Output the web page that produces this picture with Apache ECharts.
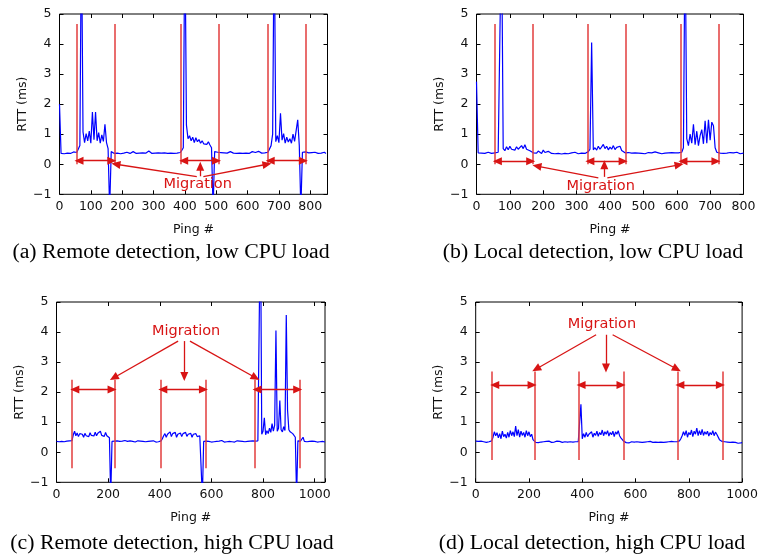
<!DOCTYPE html>
<html>
<head>
<meta charset="utf-8">
<script src="https://cdn.jsdelivr.net/npm/echarts@6/dist/echarts.min.js"></script>
<style>
  html, body { margin: 0; padding: 0; background: #fff; }
  #chart { width: 761px; height: 555px; }
</style>
</head>
<body>
<div id="chart"></div>
<script>
"use strict";

// one RTT sample every STEP pings
const STEP = 5;

// (a) remote detection, low CPU load, pings 0..850
const rttA = [
  2.0, 0.36, 0.38, 0.35, 0.39, 0.37, 0.40, 0.36, 0.38, 0.41, 0.37, 0.39, 0.40, 0.62, 8, 1.08, 0.72, 1.02, 0.78, 1.1,
  0.7, 1.74, 0.82, 1.74, 0.78, 1.05, 0.7, 0.98, 0.76, 1.33, 0.72, 0.52, -1.5, 0.42, 0.38, 0.36, 0.40, 0.37, 0.38, 0.35,
  0.39, 0.37, 0.36, 0.40, 0.38, 0.36, 0.37, 0.42, 0.38, 0.36, 0.39, 0.37, 0.35, 0.38, 0.41, 0.37, 0.39, 0.44, 0.38, 0.36,
  0.33, 0.37, 0.36, 0.38, 0.40, 0.37, 0.35, 0.38, 0.37, 0.36, 0.39, 0.37, 0.38, 0.36, 0.40, 0.37, 0.38, 0.39, 0.46, 0.55,
  8, 1.3, 0.85, 0.95, 0.78, 0.9, 0.72, 0.88, 0.75, 0.82, 0.7, 0.78, 0.68, 0.74, 0.66, 0.75, 0.64, 0.55, -1.5, 0.42,
  0.38, 0.40, 0.37, 0.39, 0.36, 0.38, 0.41, 0.37, 0.36, 0.42, 0.38, 0.37, 0.39, 0.36, 0.38, 0.37, 0.40, 0.36, 0.38, 0.37,
  0.39, 0.36, 0.38, 0.42, 0.37, 0.39, 0.36, 0.43, 0.38, 0.37, 0.40, 0.38, 0.39, 0.40, 0.42, 0.62, 1.0, 8, 0.75, 0.95,
  0.72, 1.7, 0.8, 1.02, 0.7, 0.9, 0.74, 0.85, 0.7, 1.0, 0.76, 1.12, 1.48, 0.62, -1.5, 0.4, 0.38, 0.41, 0.37, 0.38,
  0.36, 0.39, 0.37, 0.40, 0.38, 0.36, 0.39, 0.37, 0.38, 0.40, 0.36
];

// (b) local detection, low CPU load, pings 0..800
const rttB = [
  2.75, 0.38, 0.35, 0.37, 0.39, 0.36, 0.38, 0.40, 0.37, 0.36, 0.39, 0.38, 0.37, 0.40, 0.45, 8, 0.52, 0.45, 0.58, 0.48,
  0.6, 0.5, 0.56, 0.47, 0.58, 0.5, 0.55, 0.62, 0.52, 0.65, 0.5, 0.55, 0.45, 0.4, 0.38, 0.41, 0.37, 0.44, 0.38, 0.36,
  0.47, 0.39, 0.37, 0.43, 0.38, 0.36, 0.39, 0.35, 0.37, 0.36, 0.38, 0.34, 0.37, 0.36, 0.39, 0.35, 0.37, 0.38, 0.36, 0.40,
  0.37, 0.35, 0.38, 0.37, 0.39, 0.36, 0.38, 0.42, 0.5, 4.05, 0.48, 0.55, 0.47, 0.6, 0.5, 0.58, 0.66, 0.52, 0.6, 0.48,
  0.57, 0.5, 0.62, 0.49, 0.56, 0.5, 0.6, 0.46, 0.42, 0.38, 0.36, 0.39, 0.35, 0.37, 0.36, 0.38, 0.34, 0.37, 0.40, 0.36,
  0.38, 0.35, 0.37, 0.39, 0.36, 0.38, 0.37, 0.41, 0.36, 0.38, 0.37, 0.35, 0.39, 0.37, 0.36, 0.38, 0.37, 0.39, 0.36, 0.38,
  0.37, 0.38, 0.39, 0.40, 0.55, 8, 0.85, 0.62, 1.0, 0.7, 1.33, 0.65, 1.1, 0.62, 0.95, 1.15, 0.68, 1.45, 0.7, 1.48,
  0.8, 1.4, 1.28, 0.55, 0.4, 0.38, 0.37, 0.39, 0.36, 0.38, 0.37, 0.35, 0.39, 0.37, 0.38, 0.36, 0.40, 0.37, 0.35, 0.38,
  0.37
];

// (c) remote detection, high CPU load, pings 0..1040
const rttC = [
  0.36, 0.37, 0.35, 0.38, 0.36, 0.37, 0.35, 0.38, 0.37, 0.36, 0.38, 0.37, 0.39, 0.58, 0.7, 0.55, 0.64, 0.52, 0.62, 0.56,
  0.6, 0.5, 0.63, 0.55, 0.6, 0.52, 0.65, 0.56, 0.62, 0.54, 0.67, 0.55, 0.63, 0.58, 0.7, 0.56, 0.62, 0.53, 0.66, 0.55,
  0.6, 0.48, -1.5, 0.36, 0.33, 0.37, 0.35, 0.38, 0.34, 0.36, 0.33, 0.37, 0.35, 0.39, 0.34, 0.36, 0.35, 0.38, 0.33, 0.36,
  0.37, 0.34, 0.36, 0.38, 0.35, 0.37, 0.34, 0.36, 0.38, 0.35, 0.37, 0.36, 0.34, 0.37, 0.35, 0.38, 0.36, 0.34, 0.37, 0.35,
  0.36, 0.38, 0.45, 0.55, 0.62, 0.5, 0.6, 0.54, 0.68, 0.52, 0.62, 0.56, 0.66, 0.5, 0.6, 0.55, 0.64, 0.52, 0.62, 0.57,
  0.66, 0.53, 0.6, 0.55, 0.63, 0.5, 0.6, 0.56, 0.62, 0.52, 0.58, 0.55, 0.5, -1.5, 0.36, 0.34, 0.37, 0.35, 0.36, 0.38,
  0.34, 0.36, 0.35, 0.38, 0.36, 0.33, 0.37, 0.35, 0.39, 0.36, 0.34, 0.37, 0.35, 0.38, 0.36, 0.41, 0.35, 0.37, 0.34, 0.36,
  0.38, 0.35, 0.37, 0.34, 0.36, 0.38, 0.35, 0.37, 0.36, 0.34, 0.37, 0.35, 0.38, 0.36, 0.37, 0.39, 0.38, 0.42, 8, 0.6,
  0.7, 1.15, 0.58, 0.72, 0.62, 0.8, 0.66, 0.95, 0.7, 0.9, 4.05, 0.7, 0.8, 1.72, 0.75, 0.68, 0.85, 0.72, 4.57, 1.4,
  0.75, 0.68, 0.72, 0.62, 0.66, 0.5, -1.5, 0.38, 0.36, 0.37, 0.35, 0.5, 0.36, 0.38, 0.35, 0.37, 0.36, 0.34, 0.37, 0.35,
  0.36, 0.38, 0.34, 0.36, 0.35, 0.33, 0.36, 0.35, 0.34
];

// (d) local detection, high CPU load, pings 0..1000
const rttD = [
  0.37, 0.33, 0.36, 0.34, 0.37, 0.33, 0.35, 0.36, 0.33, 0.37, 0.35, 0.36, 0.38, 0.5, 0.68, 0.55, 0.65, 0.48, 0.62, 0.45,
  0.7, 0.52, 0.6, 0.47, 0.66, 0.5, 0.72, 0.55, 0.68, 0.52, 0.87, 0.55, 0.75, 0.5, 0.7, 0.56, 0.66, 0.5, 0.72, 0.55,
  0.68, 0.52, 0.6, 0.42, 0.36, 0.33, 0.35, 0.32, 0.36, 0.34, 0.37, 0.35, 0.33, 0.36, 0.34, 0.37, 0.35, 0.33, 0.36, 0.34,
  0.35, 0.37, 0.34, 0.36, 0.35, 0.33, 0.36, 0.35, 0.37, 0.34, 0.36, 0.35, 0.37, 0.34, 0.36, 0.35, 0.37, 0.35, 0.36, 1.6,
  0.45, 0.62, 0.5, 0.66, 0.52, 0.6, 0.55, 0.68, 0.5, 0.63, 0.56, 0.7, 0.53, 0.66, 0.58, 0.74, 0.55, 0.68, 0.6, 0.72,
  0.54, 0.66, 0.58, 0.7, 0.52, 0.68, 0.6, 0.72, 0.55, 0.48, 0.42, 0.37, 0.35, 0.32, 0.34, 0.31, 0.33, 0.35, 0.32, 0.34,
  0.33, 0.35, 0.32, 0.34, 0.36, 0.33, 0.35, 0.34, 0.32, 0.35, 0.33, 0.36, 0.34, 0.33, 0.35, 0.34, 0.36, 0.33, 0.35, 0.34,
  0.36, 0.33, 0.35, 0.34, 0.36, 0.35, 0.33, 0.36, 0.34, 0.35, 0.37, 0.35, 0.34, 0.38, 0.45, 0.55, 0.68, 0.56, 0.72, 0.5,
  0.66, 0.58, 0.74, 0.52, 0.7, 0.6, 0.8, 0.55, 0.72, 0.58, 0.76, 0.56, 0.68, 0.6, 0.7, 0.54, 0.66, 0.58, 0.72, 0.55,
  0.67, 0.6, 0.64, 0.42, 0.37, 0.36, 0.38, 0.35, 0.36, 0.34, 0.35, 0.33, 0.32, 0.34, 0.31, 0.33, 0.32, 0.30, 0.33, 0.31,
  0.32
];

// migration start / end markers (ping #), three migrations per run
const migA = [54, 175, 388, 509, 664, 786];
const migB = [55, 170, 332, 447, 611, 725];
const migC = [61, 225, 402, 579, 767, 944];
const migD = [62, 221, 386, 555, 757, 928];

// marker line extent [bottom, top] and double-arrow height (ms)
const markSpan = [[0, 4.67], [0, 4.67], [-0.53, 2.41], [-0.26, 2.69]];
const arrowY = [0.12, 0.1, 2.09, 2.24];

// "Migration" label [ping, rtt] and its three pointers [from, to]
const labelAt = [[441, -0.68], [372, -0.72], [502, 4.03], [474, 4.25]];
const pointers = [
  [[[438, -0.41], [180, 0.0]], [[449, -0.4], [449, -0.07]], [[459, -0.41], [662, 0.0]]],
  [[[365, -0.45], [181, -0.06]], [[383, -0.42], [383, -0.02]], [[392, -0.45], [607, -0.02]]],
  [[[471, 3.7], [222, 2.48]], [[495, 3.7], [495, 2.52]], [[517, 3.7], [771, 2.48]]],
  [[[452, 3.91], [227, 2.77]], [[489, 3.91], [489, 2.8]], [[514, 3.91], [755, 2.77]]]
];

const captions = [
  "(a) Remote detection, low CPU load",
  "(b) Local detection, low CPU load",
  "(c) Remote detection, high CPU load",
  "(d) Local detection, high CPU load"
];

const xMax = [855, 800, 1040, 1000];
const xStep = [100, 100, 200, 200];

const runs = [rttA, rttB, rttC, rttD];
const migs = [migA, migB, migC, migD];

const grids = [
  {left: 59.5, top: 14, width: 268, height: 180.3},
  {left: 476.5, top: 14, width: 267, height: 180.3},
  {left: 56.5, top: 302, width: 268.5, height: 180.3},
  {left: 475.7, top: 302, width: 267.6, height: 180.3}
];
const captionPos = [[171, 253], [593, 253], [172, 544], [592, 544]];

const SANS = "DejaVu Sans";
const RED_LINE = "#e23c3c";
const RED = "#d81414";
const BLUE = "#0000ff";

const xAxes = [], yAxes = [], series = [], graphics = [];

grids.forEach((g, i) => {
  const tick = {show: true, inside: true, length: 4, lineStyle: {color: "#000", width: 1}};
  const noLine = {show: false, onZero: false};
  const xLabel = {
    fontFamily: SANS, fontSize: 12.5, color: "#111", margin: 6,
    formatter: v => (v % xStep[i] === 0 ? String(v) : "")
  };
  xAxes.push({
    gridIndex: i, type: "value", min: 0, max: xMax[i], interval: xStep[i], position: "bottom",
    name: "Ping #", nameLocation: "middle", nameGap: 29,
    nameTextStyle: {fontFamily: SANS, fontSize: 12.5, color: "#111"},
    axisLine: noLine, axisTick: tick, axisLabel: xLabel, splitLine: {show: false}
  });
  xAxes.push({
    gridIndex: i, type: "value", min: 0, max: xMax[i], interval: xStep[i], position: "top",
    axisLine: noLine, axisTick: tick, axisLabel: {show: false}, splitLine: {show: false}
  });
  yAxes.push({
    gridIndex: i, type: "value", min: -1, max: 5, interval: 1, position: "left",
    name: "RTT (ms)", nameLocation: "middle", nameGap: 30,
    nameTextStyle: {fontFamily: SANS, fontSize: 12.5, color: "#111"},
    axisLine: noLine, axisTick: tick,
    axisLabel: {fontFamily: SANS, fontSize: 12.5, color: "#111", margin: 8,
      formatter: v => String(v).replace("-", "\u2212")},
    splitLine: {show: false}
  });
  yAxes.push({
    gridIndex: i, type: "value", min: -1, max: 5, interval: 1, position: "right",
    axisLine: noLine, axisTick: tick, axisLabel: {show: false}, splitLine: {show: false}
  });

  const xi = i * 2, yi = i * 2;
  const m = migs[i];

  // measured RTT
  series.push({
    type: "line", xAxisIndex: xi, yAxisIndex: yi, clip: true,
    data: runs[i].map((v, k) => [k * STEP, v]),
    showSymbol: false, symbol: "none",
    lineStyle: {color: BLUE, width: 1.2}, z: 3
  });

  // migration boundaries
  series.push({
    type: "line", xAxisIndex: xi, yAxisIndex: yi, data: [], z: 4,
    markLine: {
      silent: true, symbol: "none", animation: false,
      label: {show: false},
      lineStyle: {color: RED_LINE, width: 1.5, type: "solid"},
      data: m.map(x => [{coord: [x, markSpan[i][0]]}, {coord: [x, markSpan[i][1]]}])
    }
  });

  // double arrows spanning each migration
  const gap = xMax[i] / 105;
  const pairs = [[m[0], m[1]], [m[2], m[3]], [m[4], m[5]]];
  series.push({
    type: "line", xAxisIndex: xi, yAxisIndex: yi, data: [], z: 5,
    markLine: {
      silent: true, symbol: ["triangle", "triangle"], symbolSize: [8, 9], animation: false,
      label: {show: false},
      lineStyle: {color: RED, width: 1.3, type: "solid", opacity: 1},
      data: pairs.map(p => [{coord: [p[0] + gap, arrowY[i]]}, {coord: [p[1] - gap, arrowY[i]]}])
    }
  });

  // pointers from the label
  series.push({
    type: "line", xAxisIndex: xi, yAxisIndex: yi, data: [], z: 5,
    markLine: {
      silent: true, symbol: ["none", "triangle"], symbolSize: [8, 9], animation: false,
      label: {show: false},
      lineStyle: {color: RED, width: 1.3, type: "solid"},
      data: pointers[i].map(p => [{coord: p[0]}, {coord: p[1]}])
    },
    markPoint: {
      silent: true, symbol: "circle", symbolSize: 0, animation: false,
      label: {show: true, position: "inside", formatter: "Migration",
        fontFamily: SANS, fontSize: 14.5, color: RED},
      data: [{coord: labelAt[i]}]
    }
  });

  graphics.push({
    type: "text", x: captionPos[i][0], y: captionPos[i][1], scaleX: 1.09,
    style: {
      text: captions[i], fill: "#000",
      font: '20px "Liberation Serif"', textAlign: "center", textVerticalAlign: "middle"
    }
  });
});

const chart = echarts.init(document.getElementById("chart"), null, {renderer: "canvas"});
chart.setOption({
  animation: false,
  backgroundColor: "#fff",
  grid: grids.map(g => Object.assign({show: true, borderColor: "#000", borderWidth: 1, backgroundColor: "transparent"}, g)),
  xAxis: xAxes,
  yAxis: yAxes,
  series: series,
  graphic: graphics
});
</script>
</body>
</html>
